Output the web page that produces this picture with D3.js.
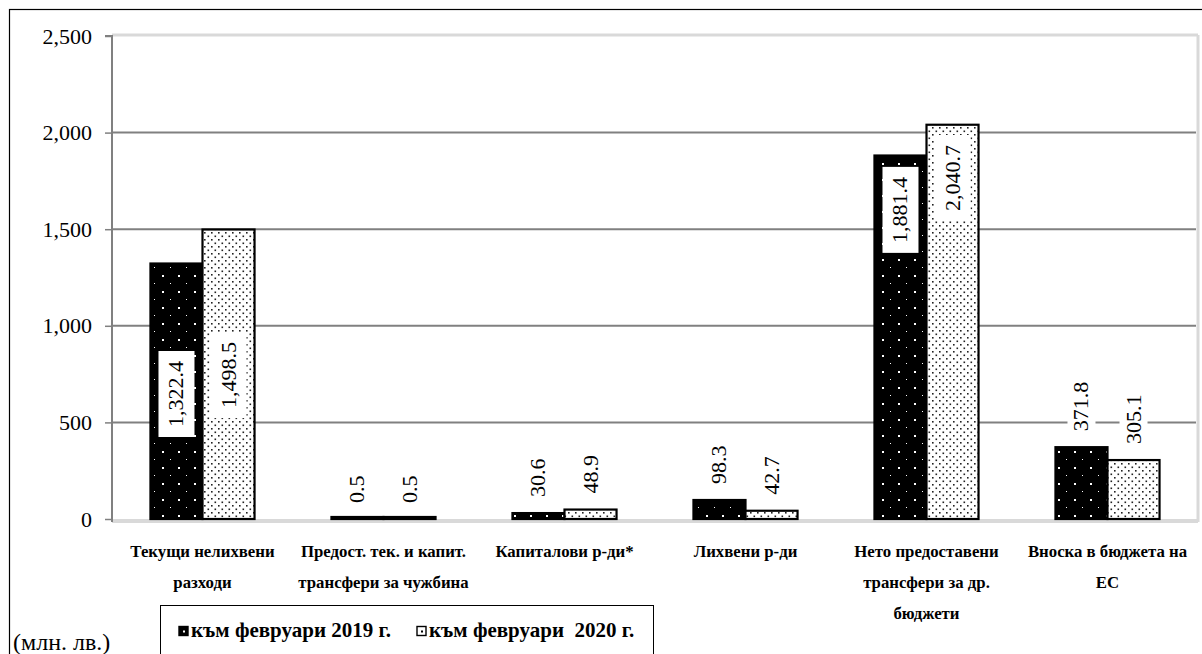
<!DOCTYPE html>
<html>
<head>
<meta charset="utf-8">
<script src="https://cdn.jsdelivr.net/npm/d3@7"></script>
<style>
body{margin:0;background:#fff}
text{font-family:"Liberation Serif","Times New Roman",serif}
</style>
</head>
<body>
<svg id="canvas"></svg>
<script>
let width=1202, height=654

// data
const categories = [
    ["Текущи нелихвени","разходи"],
    ["Предост. тек. и капит.","трансфери за чужбина"],
    ["Капиталови р-ди*"],
    ["Лихвени р-ди"],
    ["Нето предоставени","трансфери за др.","бюджети"],
    ["Вноска в бюджета на","ЕС"]
]
const series = ["към февруари 2019 г.", "към февруари  2020 г."]
const feb2019 = [1322.4, 0.5, 30.6, 98.3, 1881.4, 371.8]
const feb2020 = [1498.5, 0.5, 48.9, 42.7, 2040.7, 305.1]
const yTicks = [0, 500, 1000, 1500, 2000, 2500]
const unitLabel = "(млн. лв.)"

// where the big labels sit inside their bars (value units)
const labelCenter = {"0-0":647, "0-1":745, "4-0":1600, "4-1":1765}

let svg = d3.select('#canvas').attr("width",width).attr("height",height)

let plot = {left:112, right:1198, top:36, bottom:519}

let y = d3.scaleLinear().domain([0,2500]).range([plot.bottom, plot.top])
let x = d3.scaleBand().domain(d3.range(categories.length)).range([plot.left, plot.right]).paddingInner(0.425).paddingOuter(0.2125)
let xs = d3.scaleBand().domain([0,1]).range([0, x.bandwidth()])

// patterns
let defs = svg.append("defs")
let p1 = defs.append("pattern").attr("id","pBlack").attr("patternUnits","userSpaceOnUse").attr("width",16).attr("height",16)
p1.append("rect").attr("width",16).attr("height",16).attr("fill","#000")
p1.append("rect").attr("x",2).attr("y",3).attr("width",2).attr("height",2).attr("fill","#fff")
p1.append("rect").attr("x",10).attr("y",11).attr("width",1).attr("height",1).attr("fill","#fff")
let p2 = defs.append("pattern").attr("id","pDots").attr("patternUnits","userSpaceOnUse").attr("width",7).attr("height",7)
p2.append("rect").attr("width",7).attr("height",7).attr("fill","#fff")
p2.append("rect").attr("x",1).attr("y",1).attr("width",1.6).attr("height",1.6).attr("fill","#222")
p2.append("rect").attr("x",4.5).attr("y",4.5).attr("width",1.6).attr("height",1.6).attr("fill","#222")
const fills = ["url(#pBlack)","url(#pDots)"]

// outer frame
svg.append("rect").attr("x",9.5).attr("y",9.5).attr("width",1250).attr("height",700)
    .attr("fill","none").attr("stroke","#000").attr("stroke-width",1.2)

// plot frame
svg.append("line").attr("x1",plot.left).attr("x2",plot.right).attr("y1",plot.top-1).attr("y2",plot.top-1)
    .attr("stroke","#d9d9d9").attr("stroke-width",3)
svg.append("line").attr("x1",plot.right).attr("x2",plot.right).attr("y1",plot.top-1).attr("y2",plot.bottom+3)
    .attr("stroke","#d9d9d9").attr("stroke-width",3)
svg.append("line").attr("x1",plot.left).attr("x2",plot.right).attr("y1",plot.bottom+2).attr("y2",plot.bottom+2)
    .attr("stroke","#d9d9d9").attr("stroke-width",4)

// gridlines
svg.selectAll(".grid").data(yTicks.filter(d=>d>0 && d<2500)).enter().append("line")
    .attr("x1",plot.left).attr("x2",plot.right-2)
    .attr("y1",d=>y(d)).attr("y2",d=>y(d))
    .attr("stroke","#808080").attr("stroke-width",2)

// y axis
let yAxis = svg.append("g").attr("transform",`translate(${plot.left},0)`)
    .call(d3.axisLeft(y).tickValues(yTicks).tickSize(7).tickPadding(13).tickFormat(d3.format(",")))
yAxis.select(".domain").attr("stroke","#808080").attr("stroke-width",2)
    .attr("d",`M-7,${plot.top}H0V${plot.bottom+3}`)
yAxis.selectAll(".tick line").attr("stroke","#808080").attr("stroke-width",1.5)
yAxis.selectAll(".tick text").attr("font-size",22).attr("fill","#000")
    .attr("font-family","Liberation Serif")

// bars
let rows = []
categories.forEach((c,i)=>{
    rows.push({cat:i, s:0, v:feb2019[i]})
    rows.push({cat:i, s:1, v:feb2020[i]})
})

svg.selectAll(".bar").data(rows).enter().append("rect")
    .attr("x", d=>x(d.cat)+xs(d.s))
    .attr("y", d=>Math.min(y(d.v), plot.bottom-2))
    .attr("width", xs.bandwidth())
    .attr("height", d=>Math.max(plot.bottom-y(d.v), 2))
    .attr("fill", d=>fills[d.s])
    .attr("stroke","#000").attr("stroke-width",2.2)

// value labels
let fmt = d3.format(",.1f")
rows.forEach(d=>{
    let cx = x(d.cat)+xs(d.s)+xs.bandwidth()/2
    let key = d.cat+"-"+d.s
    let g = svg.append("g")
    let t
    if (labelCenter[key]!==undefined) {
        let cy = y(labelCenter[key])
        t = g.append("text").attr("transform",`translate(${cx+7},${cy}) rotate(-90)`)
            .attr("text-anchor","middle").attr("font-size",22).text(fmt(d.v))
        let bb = t.node().getBBox()
        g.insert("rect","text").attr("x",cx-18).attr("y",cy-bb.width/2-10)
            .attr("width",36).attr("height",bb.width+20).attr("fill","#fff")
    } else {
        let by = y(d.v)-16
        t = g.append("text").attr("transform",`translate(${cx+7},${by}) rotate(-90)`)
            .attr("text-anchor","start").attr("font-size",22).text(fmt(d.v))
        let bb = t.node().getBBox()
        g.insert("rect","text").attr("x",cx-14).attr("y",by-bb.width-4)
            .attr("width",28).attr("height",bb.width+8).attr("fill","#fff")
    }
})

// category labels
categories.forEach((lines,i)=>{
    let t = svg.append("text").attr("x",x(i)+x.bandwidth()/2).attr("y",557)
        .attr("text-anchor","middle").attr("font-size",16.8).attr("font-weight","bold")
    lines.forEach((l,k)=>{
        t.append("tspan").attr("x",x(i)+x.bandwidth()/2).attr("dy",k==0?0:31).text(l)
    })
})

// unit label
svg.append("text").attr("x",13).attr("y",650).attr("font-size",24).text(unitLabel)

// legend
let lg = svg.append("g")
lg.append("rect").attr("x",160.5).attr("y",605.5).attr("width",493).attr("height",80)
    .attr("fill","#fff").attr("stroke","#000").attr("stroke-width",1)
let lx = [179, 417]
series.forEach((s,i)=>{
    lg.append("rect").attr("x",lx[i]).attr("y",626.5).attr("width",9).attr("height",9)
        .attr("fill", i==0 ? "#000" : "#fff").attr("stroke","#000").attr("stroke-width",1.4)
    lg.append("rect").attr("x",lx[i]+4).attr("y",630.5).attr("width",2).attr("height",2).attr("fill", i==0 ? "#fff" : "#000")
    lg.append("text").attr("x",lx[i]+12).attr("y",637).attr("font-size",21).attr("font-weight","bold")
        .attr("xml:space","preserve").style("white-space","pre").text(s)
})
</script>
</body>
</html>
